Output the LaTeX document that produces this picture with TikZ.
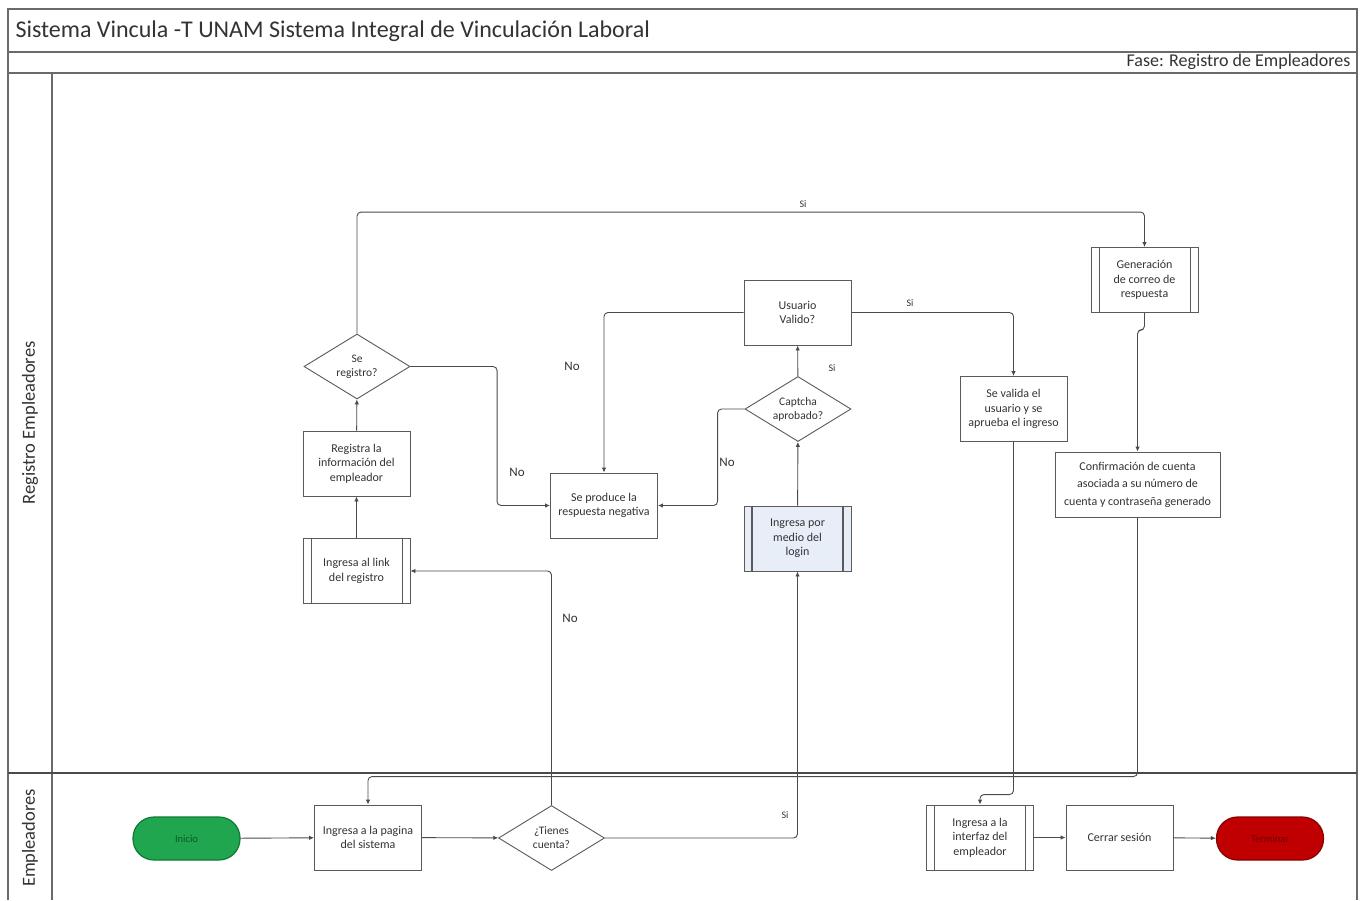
\documentclass[tikz,border=0pt]{standalone}
\usepackage{fontspec}
\setmainfont{Carlito}
\usetikzlibrary{shapes.geometric,arrows.meta,calc}
\definecolor{framec}{HTML}{6A6A6A}
\definecolor{nodec}{HTML}{5A5A5A}
\definecolor{linec}{HTML}{4A4A4A}
\definecolor{txtc}{HTML}{333333}
\definecolor{greenf}{HTML}{1FA64E}
\definecolor{greend}{HTML}{0F7A36}
\definecolor{greent}{HTML}{0A5A26}
\definecolor{redf}{HTML}{C00000}
\definecolor{redd}{HTML}{8A0000}
\definecolor{redt}{HTML}{6E0000}
\definecolor{bluef}{HTML}{E8EEF8}
\tikzset{
  frame/.style={draw=framec, line width=1.4pt},
  box/.style={draw=nodec, line width=0.9pt, fill=white, minimum width=107pt, minimum height=65pt,
    inner sep=2pt, align=center, text=txtc, font=\fontsize{12}{14.5}\selectfont},
  subp/.style={box, path picture={
    \draw[nodec, line width=#1] ([xshift=8pt]path picture bounding box.north west) -- ([xshift=8pt]path picture bounding box.south west);
    \draw[nodec, line width=#1] ([xshift=-8pt]path picture bounding box.north east) -- ([xshift=-8pt]path picture bounding box.south east);}},
  decision/.style={diamond, shape aspect=1.6, draw=nodec, line width=0.9pt, fill=white, minimum width=106pt,
    minimum height=65pt, inner sep=0pt, align=center, text=txtc, font=\fontsize{11.5}{14}\selectfont},
  term/.style={rectangle, rounded corners=21pt, minimum width=107pt, minimum height=43pt, line width=1.2pt,
    font=\fontsize{10.5}{12}\selectfont},
  conn/.style={draw=linec, line width=0.9pt, rounded corners=4pt, -{Latex[length=5pt,width=4.5pt]}},
  nolbl/.style={text=txtc, font=\fontsize{13}{15}\selectfont},
  silbl/.style={text=txtc, font=\fontsize{10}{12}\selectfont},
  lane/.style={text=txtc, rotate=90, font=\fontsize{18.5}{20}\selectfont}
}
\begin{document}
\begin{tikzpicture}[x=1pt,y=-1pt]
\useasboundingbox[fill=white] (0,0) rectangle (1364,900);
% frame
\draw[frame] (8,900) -- (8,9) -- (1357,9) -- (1357,900);
\draw[frame] (8,52) -- (1357,52);
\draw[frame] (8,73) -- (1357,73);
\draw[frame] (52,73) -- (52,900);
\draw[draw=linec, line width=1.6pt] (8,773) -- (1357,773);
\node[anchor=west, text=txtc, font=\fontsize{24}{26}\selectfont] (title) at (12,31) {Sistema Vincula -T UNAM Sistema Integral de Vinculación Laboral};
\node[anchor=east, text=txtc, font=\fontsize{18}{20}\selectfont] (fase) at (1354,62) {Fase: Registro de Empleadores};
\node[lane] (lane1) at (30,423) {Registro Empleadores};
\node[lane] (lane2) at (30,838) {Empleadores};

% nodes
\node[term, draw=greend, fill=greenf, text=greent] (ini) at (186.5,838.5) {Inicio};
\node[box] (ip) at (368,837.5) {Ingresa a la pagina\\del sistema};
\node[decision] (tc) at (551.5,838) {¿Tienes\\cuenta?};
\node[subp=0.9pt] (il) at (356.5,571) {Ingresa al link\\del registro};
\node[box] (ri) at (356.5,463.5) {Registra la\\información del\\empleador};
\node[decision] (sr) at (357,366.5) {Se\\registro?};
\node[box] (sp) at (604,505.5) {Se produce la\\respuesta negativa};
\node[subp=2.6pt, fill=bluef] (lg) at (797.5,538.5) {Ingresa por\\medio del\\login};
\node[decision] (cap) at (798,409) {Captcha\\aprobado?};
\node[box] (uv) at (797.5,312.5) {Usuario\\Valido?};
\node[box] (sv) at (1013.5,409) {Se valida el\\usuario y se\\aprueba el ingreso};
\node[subp=0.9pt] (gen) at (1144.5,280) {Generación\\de correo de\\respuesta};
\node[box, minimum width=165pt, font=\fontsize{12}{17.5}\selectfont] (cf) at (1137.5,484.5) {Confirmación de cuenta\\asociada a su número de\\cuenta y contraseña generado};
\node[subp=0.9pt] (ii) at (980,837.5) {Ingresa a la\\interfaz del\\empleador};
\node[box] (cs) at (1119.5,837.5) {Cerrar sesión};
\node[term, draw=redd, fill=redf, text=redt] (fin) at (1270,838.5) {Terminar};

% connectors
\draw[conn] (ini) -- (ip);
\draw[conn] (ip) -- (tc);
\draw[conn] (tc.north) |- (il.east);
\draw[conn] (tc.east) -| (lg.south);
\draw[conn] (lg) -- (cap);
\draw[conn] (cap) -- (uv);
\draw[conn] (cap.west) -- ++(-27pt,0) |- (sp.east);
\draw[conn] (uv.west) -| (sp.north);
\draw[conn] (uv.east) -| (sv.north);
\draw[conn] (il) -- (ri);
\draw[conn] (ri) -- (sr);
\draw[conn] (sr.north) |- ([yshift=35pt]gen.north) -- (gen.north);
\draw[conn] (sr.east) -| ([xshift=-53pt]sp.west) -- (sp.west);
\draw[conn] (gen.south) -- ++(0,-17pt) -| (cf.north);
\draw[conn] (cf.south) |- ([yshift=28pt]ip.north) -- (ip.north);
\draw[conn] (sv.south) |- ([yshift=10pt]ii.north) -- (ii.north);
\draw[conn] (ii) -- (cs);
\draw[conn] (cs) -- (fin);

% labels
\node[silbl] (l1) at (803,204) {Si};
\node[nolbl] (l2) at (572,366) {No};
\node[silbl] (l3) at (910,303) {Si};
\node[silbl] (l4) at (832,368) {Si};
\node[nolbl] (l5) at (517,472) {No};
\node[nolbl] (l6) at (727,462) {No};
\node[nolbl] (l7) at (570,618) {No};
\node[silbl] (l8) at (785,815) {Si};
\end{tikzpicture}
\end{document}
